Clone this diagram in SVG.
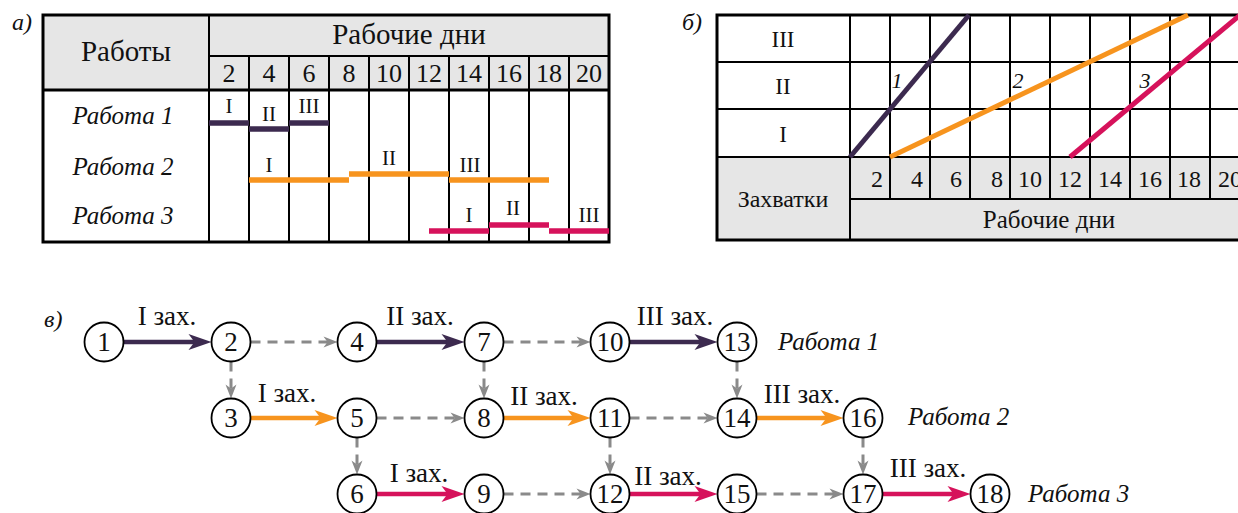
<svg xmlns="http://www.w3.org/2000/svg" width="1238" height="513" viewBox="0 0 1238 513" font-family="'Liberation Serif','DejaVu Serif','Noto Serif',serif">
<style>
text{font-family:'Liberation Serif','DejaVu Serif','Noto Serif',serif;fill:#111}
.it{font-style:italic}
.c{text-anchor:middle}
.g{stroke:#000;stroke-width:2;fill:none}
.ob{stroke:#000;stroke-width:3;fill:none}
.hd{fill:#e6e6e6}
.pu{stroke:#3c2a4f}
.or{stroke:#f7941e}
.mg{stroke:#d6125b}
.bar{stroke-width:5.5;fill:none}
.node circle{fill:#fff;stroke:#000;stroke-width:1.8}
.node text{font-size:27px;text-anchor:middle}
.sol{stroke-width:4.5;fill:none}
.dsh{stroke:#8a8a8a;stroke-width:3;stroke-dasharray:10 7;fill:none}
.lbl{font-size:27px;text-anchor:middle}
</style>
<defs>
<marker id="ap" markerUnits="userSpaceOnUse" markerWidth="30" markerHeight="20" refX="-10" refY="0" orient="auto" overflow="visible"><path d="M0,0 L-23,-8 L-17,0 L-23,8 Z" fill="#3c2a4f"/></marker>
<marker id="ao" markerUnits="userSpaceOnUse" markerWidth="30" markerHeight="20" refX="-10" refY="0" orient="auto" overflow="visible"><path d="M0,0 L-23,-8 L-17,0 L-23,8 Z" fill="#f7941e"/></marker>
<marker id="am" markerUnits="userSpaceOnUse" markerWidth="30" markerHeight="20" refX="-10" refY="0" orient="auto" overflow="visible"><path d="M0,0 L-23,-8 L-17,0 L-23,8 Z" fill="#d6125b"/></marker>
<marker id="ag" markerUnits="userSpaceOnUse" markerWidth="20" markerHeight="14" refX="-6" refY="0" orient="auto" overflow="visible"><path d="M0,0 L-14,-5.5 L-10,0 L-14,5.5 Z" fill="#8a8a8a"/></marker>
</defs>

<!-- Table a -->
<g id="table-a">
<text x="12" y="30" class="it" font-size="24">а)</text>
<rect x="43" y="15" width="566" height="75" class="hd"/>
<line x1="209" y1="56" x2="609" y2="56" class="g"/>
<line x1="43" y1="90" x2="609" y2="90" class="ob" stroke-width="2.5"/>
<line x1="209" y1="15" x2="209" y2="242" class="g" stroke-width="2.5"/>
<path d="M249,56V242M289,56V242M329,56V242M369,56V242M409,56V242M449,56V242M489,56V242M529,56V242M569,56V242" class="g"/>
<rect x="43" y="15" width="566" height="227" class="ob"/>
<text x="126" y="61" class="c" font-size="29">Работы</text>
<text x="409" y="44" class="c" font-size="29">Рабочие дни</text>
<g font-size="26">
<text x="229" y="82" class="c">2</text><text x="269" y="82" class="c">4</text><text x="309" y="82" class="c">6</text><text x="349" y="82" class="c">8</text><text x="389" y="82" class="c">10</text><text x="429" y="82" class="c">12</text><text x="469" y="82" class="c">14</text><text x="509" y="82" class="c">16</text><text x="549" y="82" class="c">18</text><text x="589" y="82" class="c">20</text>
</g>
<text x="123" y="124" class="it c" font-size="25">Работа 1</text>
<text x="123" y="175" class="it c" font-size="25">Работа 2</text>
<text x="123" y="224" class="it c" font-size="25">Работа 3</text>
<g font-size="21">
<text x="229" y="113" class="c">I</text><text x="269" y="121" class="c">II</text><text x="309" y="113" class="c">III</text>
<text x="269" y="172" class="c">I</text><text x="389" y="165" class="c">II</text><text x="470" y="172" class="c">III</text>
<text x="469" y="222" class="c">I</text><text x="513" y="215" class="c">II</text><text x="589" y="222" class="c">III</text>
</g>
<path d="M209,123H249M249,129H289M289,123H329" class="bar pu"/>
<path d="M249,180H349M349,174H449M449,180H549" class="bar or"/>
<path d="M429,231H489M489,225H549M549,231H609" class="bar mg"/>
</g>

<!-- Table b -->
<g id="table-b">
<text x="682" y="30" class="it" font-size="24">б)</text>
<rect x="717" y="157" width="533" height="83" class="hd"/>
<path d="M717,62H1250M717,109H1250M850,199H1250" class="g"/>
<line x1="717" y1="157" x2="1250" y2="157" class="g" stroke-width="2.5"/>
<line x1="850" y1="15" x2="850" y2="240" class="g" stroke-width="2.5"/>
<path d="M890,15V199M930,15V199M970,15V199M1010,15V199M1050,15V199M1090,15V199M1130,15V199M1170,15V199M1210,15V199" class="g"/>
<rect x="717" y="15" width="533" height="225" class="ob"/>
<g font-size="23">
<text x="783" y="47" class="c">III</text>
<text x="783" y="94" class="c">II</text>
<text x="783" y="142" class="c">I</text>
</g>
<text x="783" y="207" class="c" font-size="24">Захватки</text>
<text x="1049" y="228" class="c" font-size="25">Рабочие дни</text>
<g font-size="24">
<text x="877" y="187" class="c">2</text><text x="917" y="187" class="c">4</text><text x="956" y="187" class="c">6</text><text x="997" y="187" class="c">8</text><text x="1030" y="187" class="c">10</text><text x="1070" y="187" class="c">12</text><text x="1110" y="187" class="c">14</text><text x="1150" y="187" class="c">16</text><text x="1189" y="187" class="c">18</text><text x="1230" y="187" class="c">20</text>
</g>
<line x1="850" y1="157" x2="969" y2="15" class="pu" stroke-width="5"/>
<line x1="890" y1="157" x2="1188" y2="15" class="or" stroke-width="5"/>
<line x1="1070" y1="157" x2="1240" y2="15" class="mg" stroke-width="5"/>
<g font-size="22" class="it">
<text x="897" y="88" class="c">1</text>
<text x="1018" y="88" class="c">2</text>
<text x="1145" y="88" class="c">3</text>
</g>
</g>

<!-- Network c -->
<text x="44" y="327" class="it" font-size="24">в)</text>

<g id="connectors">
<line x1="123.5" y1="342" x2="201.5" y2="342" class="sol pu" marker-end="url(#ap)"/>
<line x1="376.5" y1="342" x2="454.5" y2="342" class="sol pu" marker-end="url(#ap)"/>
<line x1="629.5" y1="342" x2="707.5" y2="342" class="sol pu" marker-end="url(#ap)"/>
<line x1="250.5" y1="418" x2="327.5" y2="418" class="sol or" marker-end="url(#ao)"/>
<line x1="503.5" y1="418" x2="580.5" y2="418" class="sol or" marker-end="url(#ao)"/>
<line x1="756.5" y1="418" x2="833.5" y2="418" class="sol or" marker-end="url(#ao)"/>
<line x1="376.5" y1="494" x2="454.5" y2="494" class="sol mg" marker-end="url(#am)"/>
<line x1="629.5" y1="494" x2="707.5" y2="494" class="sol mg" marker-end="url(#am)"/>
<line x1="882.5" y1="494" x2="960.5" y2="494" class="sol mg" marker-end="url(#am)"/>
<line x1="250.5" y1="342" x2="331.5" y2="342" class="dsh" marker-end="url(#ag)"/>
<line x1="503.5" y1="342" x2="584.5" y2="342" class="dsh" marker-end="url(#ag)"/>
<line x1="376.5" y1="418" x2="458.5" y2="418" class="dsh" marker-end="url(#ag)"/>
<line x1="629.5" y1="418" x2="711.5" y2="418" class="dsh" marker-end="url(#ag)"/>
<line x1="503.5" y1="494" x2="584.5" y2="494" class="dsh" marker-end="url(#ag)"/>
<line x1="756.5" y1="494" x2="837.5" y2="494" class="dsh" marker-end="url(#ag)"/>
<line x1="231" y1="361.5" x2="231" y2="392.5" class="dsh" marker-end="url(#ag)"/>
<line x1="484" y1="361.5" x2="484" y2="392.5" class="dsh" marker-end="url(#ag)"/>
<line x1="737" y1="361.5" x2="737" y2="392.5" class="dsh" marker-end="url(#ag)"/>
<line x1="357" y1="437.5" x2="357" y2="468.5" class="dsh" marker-end="url(#ag)"/>
<line x1="610" y1="437.5" x2="610" y2="468.5" class="dsh" marker-end="url(#ag)"/>
<line x1="863" y1="437.5" x2="863" y2="468.5" class="dsh" marker-end="url(#ag)"/>
<text x="167" y="325" class="lbl">I зах.</text>
<text x="420" y="325" class="lbl">II зах.</text>
<text x="675" y="325" class="lbl">III зах.</text>
<text x="287" y="402" class="lbl">I зах.</text>
<text x="544" y="405" class="lbl">II зах.</text>
<text x="802" y="403" class="lbl">III зах.</text>
<text x="419" y="482" class="lbl">I зах.</text>
<text x="668" y="485" class="lbl">II зах.</text>
<text x="928" y="477" class="lbl">III зах.</text>
</g>

<g id="n1" class="node"><circle cx="104" cy="342" r="19.5"/><text x="104" y="351">1</text></g>
<g id="n2" class="node"><circle cx="231" cy="342" r="19.5"/><text x="231" y="351">2</text></g>
<g id="n4" class="node"><circle cx="357" cy="342" r="19.5"/><text x="357" y="351">4</text></g>
<g id="n7" class="node"><circle cx="484" cy="342" r="19.5"/><text x="484" y="351">7</text></g>
<g id="n10" class="node"><circle cx="610" cy="342" r="19.5"/><text x="610" y="351">10</text></g>
<g id="n13" class="node"><circle cx="737" cy="342" r="19.5"/><text x="737" y="351">13</text></g>
<g id="n3" class="node"><circle cx="231" cy="418" r="19.5"/><text x="231" y="427">3</text></g>
<g id="n5" class="node"><circle cx="357" cy="418" r="19.5"/><text x="357" y="427">5</text></g>
<g id="n8" class="node"><circle cx="484" cy="418" r="19.5"/><text x="484" y="427">8</text></g>
<g id="n11" class="node"><circle cx="610" cy="418" r="19.5"/><text x="610" y="427">11</text></g>
<g id="n14" class="node"><circle cx="737" cy="418" r="19.5"/><text x="737" y="427">14</text></g>
<g id="n16" class="node"><circle cx="863" cy="418" r="19.5"/><text x="863" y="427">16</text></g>
<g id="n6" class="node"><circle cx="357" cy="494" r="19.5"/><text x="357" y="503">6</text></g>
<g id="n9" class="node"><circle cx="484" cy="494" r="19.5"/><text x="484" y="503">9</text></g>
<g id="n12" class="node"><circle cx="610" cy="494" r="19.5"/><text x="610" y="503">12</text></g>
<g id="n15" class="node"><circle cx="737" cy="494" r="19.5"/><text x="737" y="503">15</text></g>
<g id="n17" class="node"><circle cx="863" cy="494" r="19.5"/><text x="863" y="503">17</text></g>
<g id="n18" class="node"><circle cx="990" cy="494" r="19.5"/><text x="990" y="503">18</text></g>

<g id="work-labels">
<text x="778" y="350" class="it" font-size="25">Работа 1</text>
<text x="908" y="425" class="it" font-size="25">Работа 2</text>
<text x="1028" y="502" class="it" font-size="25">Работа 3</text>
</g>
</svg>
